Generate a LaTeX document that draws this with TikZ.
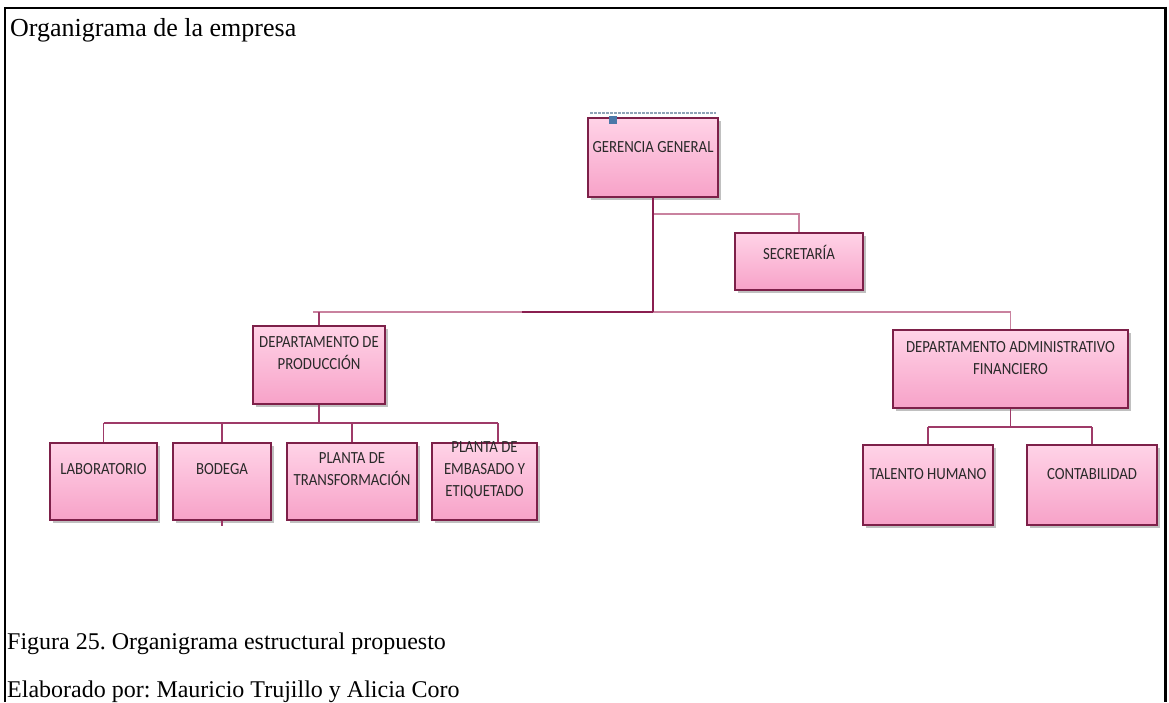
\documentclass[tikz,border=0pt]{standalone}
\usepackage{fontspec}
\setmainfont{Liberation Serif}
\newfontfamily\boxfont[FakeStretch=0.87]{Carlito}
\usetikzlibrary{shadows}
\frenchspacing

\definecolor{boxedge}{HTML}{7D2049}
\definecolor{boxtop}{HTML}{FFD3E7}
\definecolor{boxbot}{HTML}{F7A2C8}
\definecolor{linkdark}{HTML}{8A1F50}
\definecolor{linkmid}{HTML}{9E3A68}
\definecolor{linklight}{HTML}{C9829F}
\definecolor{textgray}{HTML}{2A2A2A}
\definecolor{handleblue}{HTML}{4A78A8}
\definecolor{selectgray}{HTML}{8FA5B8}

\tikzset{
  orgbox/.style={draw=boxedge, line width=1.5pt, top color=boxtop, bottom color=boxbot,
    inner sep=0pt, drop shadow={shadow xshift=2.5pt, shadow yshift=-2.5pt, opacity=0.35, fill=black!70}},
  lbl/.style={font=\boxfont\fontsize{17}{22}\selectfont, text=textgray, align=center, inner sep=0pt},
  trunk/.style={draw=linkdark, line width=2.6pt},
  sub/.style={draw=linkmid, line width=1.6pt},
  soft/.style={draw=linklight, line width=1.6pt},
  titletext/.style={font=\fontsize{26}{30}\selectfont, anchor=base west, inner sep=0pt},
  caption/.style={font=\fontsize{24}{28}\selectfont, anchor=base west, inner sep=0pt}
}

\begin{document}
\begin{tikzpicture}[x=1pt, y=-1pt]
\useasboundingbox (0,0) rectangle (1169,702);
\fill[white] (0,0) rectangle (1169,702);

% page frame
\draw[black, line width=2pt] (4.5,702) -- (4.5,7.5) -- (1165,7.5);
\draw[black, line width=3pt] (1165,6.5) -- (1165,702);

% captions
\node[titletext] (title) at (10,36) {Organigrama de la empresa};
\node[caption] (fig) at (7,649) {Figura 25. Organigrama estructural propuesto};
\node[caption] (author) at (7,697) {Elaborado por: Mauricio Trujillo y Alicia Coro};

% boxes
\node[orgbox, minimum width=130pt, minimum height=79pt] (ger) at (653,157.5) {};
\node[orgbox, minimum width=128pt, minimum height=57pt] (sec) at (799,261.5) {};
\node[orgbox, minimum width=132pt, minimum height=78pt] (prod) at (319,365) {};
\node[orgbox, minimum width=235pt, minimum height=78pt] (adm) at (1010.5,369) {};
\node[orgbox, minimum width=107pt, minimum height=77pt] (lab) at (103.5,481.5) {};
\node[orgbox, minimum width=98pt, minimum height=77pt] (bod) at (222,481.5) {};
\node[orgbox, minimum width=130pt, minimum height=77pt] (ptr) at (352,481.5) {};
\node[orgbox, minimum width=105pt, minimum height=77pt] (pem) at (484.5,481.5) {};
\node[orgbox, minimum width=130pt, minimum height=80pt] (tal) at (928,485) {};
\node[orgbox, minimum width=130pt, minimum height=80pt] (con) at (1092,485) {};

% box labels
\node[lbl] (gert) at (653,147) {GERENCIA GENERAL};
\node[lbl] (sect) at (799,252) {SECRETARÍA};
\node[lbl] (prodt) at (319,353.5) {DEPARTAMENTO DE\\PRODUCCIÓN};
\node[lbl] (admt) at (1010.5,358.5) {DEPARTAMENTO ADMINISTRATIVO\\FINANCIERO};
\node[lbl] (labt) at (103.5,469) {LABORATORIO};
\node[lbl] (bodt) at (222,469) {BODEGA};
\node[lbl] (ptrt) at (352,469) {PLANTA DE\\TRANSFORMACIÓN};
\node[lbl] (pemt) at (484.5,470) {PLANTA DE\\EMBASADO Y\\ETIQUETADO};
\node[lbl] (talt) at (928,474) {TALENTO HUMANO};
\node[lbl] (cont) at (1092,474) {CONTABILIDAD};

% selection marks on the top box
\draw[selectgray, line width=1.5pt, dash pattern=on 2.5pt off 1.5pt] (590,113) -- (716,113);
\fill[handleblue] (609,116) rectangle (617,124);

% junction points
\coordinate (secj) at (653,214);
\coordinate (barL) at (313,312);
\coordinate (barM) at (653,312);
\coordinate (barD) at (522,312);
\coordinate (barR) at (1010.5,312);
\coordinate (prodj) at (319,312);
\coordinate (pbarL) at (103.5,423);
\coordinate (pbarM) at (319,423);
\coordinate (pbarR) at (498,423);
\coordinate (abarL) at (928,427);
\coordinate (abarM) at (1010.5,427);
\coordinate (abarR) at (1092,427);

% top level connectors
\draw[soft] (secj) -| (sec.north);
\draw[soft] (barL) -- (barR) -- (adm.north);
\draw[sub] (prodj) -- (prod.north);
\draw[trunk] (barD) -- (barM);
\draw[trunk] (ger.south) -- (barM);

% production branch
\draw[sub] (prod.south) -- (pbarM);
\draw[sub] (pbarL) -- (pbarR);
\draw[sub] (pbarL) -- (lab.north);
\draw[sub] (pbarL -| bod.north) -- (bod.north);
\draw[sub] (pbarL -| ptr.north) -- (ptr.north);
\draw[sub] (pbarR) -- (pbarR |- pem.north);
\draw[sub] (bod.south) -- ++(0,5);

% administrative branch
\draw[sub] (adm.south) -- (abarM);
\draw[sub] (abarL) -- (abarR);
\draw[sub] (abarL) -- (tal.north);
\draw[sub] (abarR) -- (con.north);
\end{tikzpicture}
\end{document}
